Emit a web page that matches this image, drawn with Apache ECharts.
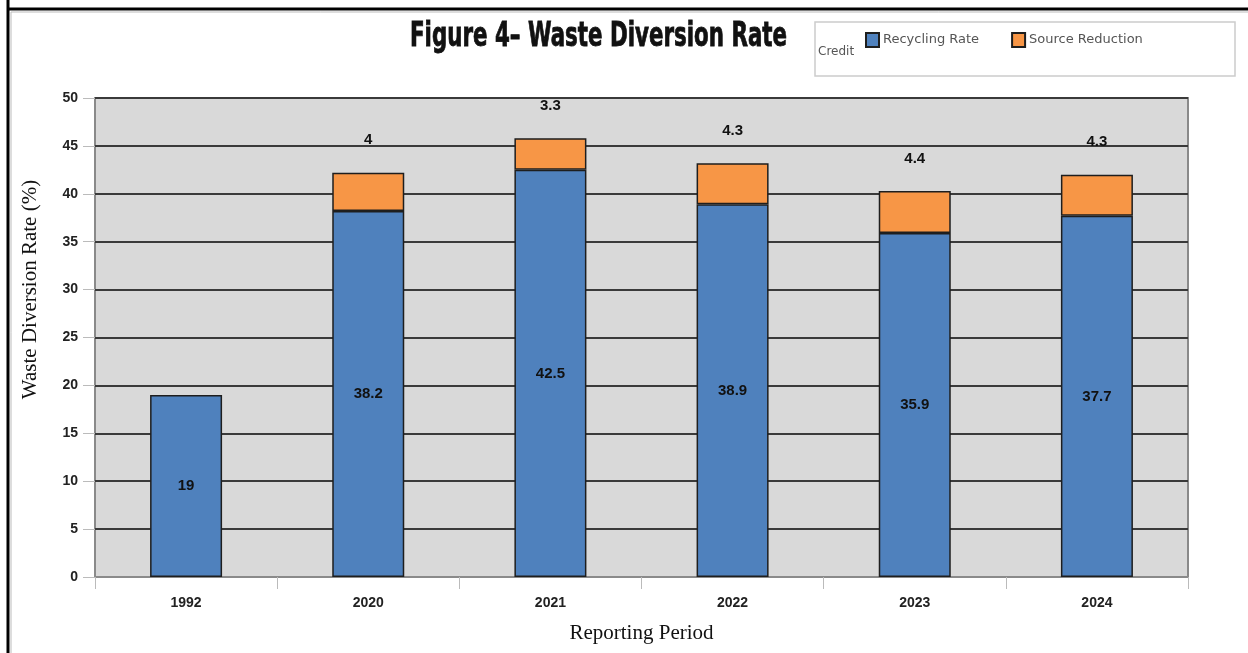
<!DOCTYPE html>
<html>
<head>
<meta charset="utf-8">
<script src="https://cdn.jsdelivr.net/npm/echarts@6/dist/echarts.min.js"></script>
<style>
html,body{margin:0;padding:0;background:#fff;}
#c{width:1248px;height:653px;}
</style>
</head>
<body>
<div id="c"></div>
<script>
var categories = ['1992', '2020', '2021', '2022', '2023', '2024'];
var recyclingRate = [19, 38.2, 42.5, 38.9, 35.9, 37.7];
var sourceReduction = [null, 4, 3.3, 4.3, 4.4, 4.3];
var seriesNames = ['Recycling Rate', 'Source Reduction Credit'];

var chart = echarts.init(document.getElementById('c'));
chart.setOption({
  backgroundColor: '#ffffff',
  animation: false,
  graphic: [
    { type: 'line', shape: { x1: 8, y1: 0, x2: 8, y2: 653 }, style: { stroke: '#000', lineWidth: 3 } },
    { type: 'line', shape: { x1: 7, y1: 9, x2: 1248, y2: 9 }, style: { stroke: '#000', lineWidth: 3 } },
    { type: 'line', shape: { x1: 11, y1: 12, x2: 1248, y2: 12 }, style: { stroke: '#bbb', lineWidth: 1 } },
    { type: 'line', shape: { x1: 11, y1: 12, x2: 11, y2: 653 }, style: { stroke: '#bbb', lineWidth: 1 } },
    { type: 'rect', shape: { x: 815, y: 22, width: 420, height: 54 }, style: { fill: '#fff', stroke: '#ccc', lineWidth: 1.5 }, z: -1 },
    { type: 'text', x: 818, y: 46, style: { text: 'Credit', font: '12px "DejaVu Sans", sans-serif', fill: '#555' } },
    { type: 'text', x: 410, y: 21, scaleX: 0.72, style: { text: 'Figure 4\u2013 Waste Diversion Rate', font: 'bold 33px "DejaVu Sans Condensed", "DejaVu Sans", sans-serif', fill: '#111', stroke: '#111', lineWidth: 0.8 } }
  ],
  legend: {
    left: 860, top: 27,
    itemWidth: 13, itemHeight: 14, itemGap: 32,
    icon: 'rect',
    data: seriesNames,
    formatter: function (n) { return n === 'Source Reduction Credit' ? 'Source Reduction' : n; },
    textStyle: { fontSize: 13, color: '#555', fontFamily: '"DejaVu Sans", sans-serif', padding: [0, 0, 0, -1] }
  },
  grid: {
    left: 95, right: 60, top: 98, bottom: 76,
    show: true, backgroundColor: '#d9d9d9', borderColor: '#8a8a8a', borderWidth: 2
  },
  xAxis: {
    type: 'category',
    data: categories,
    axisLine: { show: true, lineStyle: { color: '#8a8a8a', width: 2 } },
    axisTick: { show: true, length: 12, lineStyle: { color: '#bbb', width: 1 } },
    axisLabel: { margin: 19, fontSize: 14, color: '#222', fontFamily: '"Liberation Sans", Arial, sans-serif', fontWeight: 'bold' },
    name: 'Reporting Period',
    nameLocation: 'middle',
    nameGap: 46,
    nameTextStyle: { fontSize: 21, color: '#111', fontFamily: '"Liberation Serif", "Times New Roman", serif' }
  },
  yAxis: {
    type: 'value',
    min: 0, max: 50, interval: 5,
    axisLine: { show: false },
    axisTick: { show: true, length: 12, lineStyle: { color: '#bbb', width: 1 } },
    splitLine: { show: true, lineStyle: { color: '#3a3a3a', width: 2 } },
    axisLabel: { margin: 17, fontSize: 14, color: '#222', fontFamily: '"Liberation Sans", Arial, sans-serif', fontWeight: 'bold' },
    name: 'Waste Diversion Rate (%)',
    nameLocation: 'middle',
    nameGap: 54,
    nameTextStyle: { fontSize: 21, color: '#111', fontFamily: '"Liberation Serif", "Times New Roman", serif', padding: [0, 0, 0, 96] }
  },
  series: [
    {
      name: seriesNames[0], type: 'bar', stack: 'total', barWidth: 72,
      data: recyclingRate,
      itemStyle: { color: '#4f81bd', borderColor: '#1e1e1e', borderWidth: 1.5 },
      label: { show: true, position: 'inside', fontSize: 15, color: '#111', fontWeight: 'bold', fontFamily: '"Liberation Sans", Arial, sans-serif' }
    },
    {
      name: seriesNames[1], type: 'bar', stack: 'total', barWidth: 72,
      data: sourceReduction,
      itemStyle: { color: '#f79646', borderColor: '#1e1e1e', borderWidth: 1.5 },
      label: { show: true, position: 'top', distance: 25, fontSize: 15, color: '#111', fontWeight: 'bold', fontFamily: '"Liberation Sans", Arial, sans-serif' }
    }
  ]
});
</script>
</body>
</html>
